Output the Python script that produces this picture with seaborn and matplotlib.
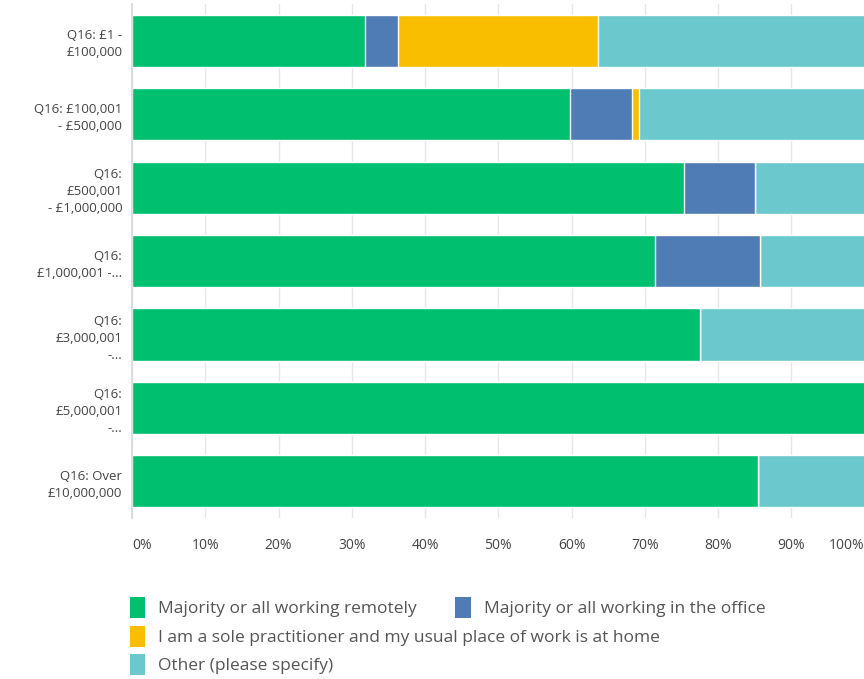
import numpy as np
import pandas as pd
import seaborn as sns
import matplotlib.pyplot as plt
import matplotlib.ticker as ticker
from matplotlib.patches import Patch

# dados (percentuais por faixa)
faixas = ['Q16: £1 -\n£100,000',
          'Q16: £100,001\n- £500,000',
          'Q16:\n£500,001\n- £1,000,000',
          'Q16:\n£1,000,001 -...',
          'Q16:\n£3,000,001\n-...',
          'Q16:\n£5,000,001\n-...',
          'Q16: Over\n£10,000,000']
remoto = [31.8, 59.8, 75.4, 71.4, 77.5, 100.0, 85.5]
escritorio = [4.5, 8.5, 9.6, 14.3, 0.0, 0.0, 0.0]
sozinho = [27.3, 0.9, 0.0, 0.0, 0.0, 0.0, 0.0]
outro = [36.4, 30.8, 15.0, 14.3, 22.5, 0.0, 14.5]

categorias = ['Majority or all working remotely',
              'Majority or all working in the office',
              'I am a sole practitioner and my usual place of work is at home',
              'Other (please specify)']
cores = ['#00BF6F', '#507CB6', '#F9BE00', '#6BC8CD']
ticks_x = ['0%', '10%', '20%', '30%', '40%', '50%', '60%', '70%', '80%', '90%', '100%']

df = pd.DataFrame({'faixa': faixas, categorias[0]: remoto, categorias[1]: escritorio,
                   categorias[2]: sozinho, categorias[3]: outro})
acumulado = df[categorias].cumsum(axis=1)

sns.set_theme(style='white')
plt.rcParams['font.family'] = ['Open Sans', 'DejaVu Sans']

fig = plt.figure(figsize=(8.64, 6.79), dpi=100)
ax = fig.add_axes([0.1528, 0.237, 0.848, 0.757])

# barras empilhadas: desenha do maior acumulado para o menor
for cat, cor in reversed(list(zip(categorias, cores))):
    sns.barplot(x=acumulado[cat], y=df['faixa'], color=cor, width=0.71,
                saturation=1, ax=ax, zorder=2)

ax.set_xlim(0, 100)
ax.set(xlabel=None, ylabel=None)
ax.set_xticks(np.arange(0, 101, 10))
ax.set_xticklabels(ticks_x)
ax.xaxis.grid(True, color='#e6e6e6', linewidth=1, zorder=0)
ax.set_axisbelow(True)
for s in ['top', 'right', 'bottom']:
    ax.spines[s].set_visible(False)
ax.spines['left'].set_color('#d9d9d9')
ax.tick_params(axis='x', length=0, pad=14, labelsize=10, labelcolor='#444444')
ax.tick_params(axis='y', length=0, pad=7, labelsize=9.5, labelcolor='#444444')
labels_x = ax.get_xticklabels()
labels_x[0].set_ha('left')
labels_x[-1].set_ha('right')
for lb in ax.get_yticklabels():
    lb.set_linespacing(1.4)

# legenda em duas partes
h = [Patch(facecolor=c, edgecolor='none') for c in cores]
estilo = dict(loc='upper left', frameon=False, fontsize=12.5, handlelength=0.9,
              handleheight=1.5, handletextpad=0.75, labelcolor='#555555',
              borderaxespad=0, borderpad=0)
leg1 = fig.legend(h[:2], categorias[:2], ncol=2, bbox_to_anchor=(0.15, 0.121),
                  columnspacing=2.2, **estilo)
leg2 = fig.legend(h[2:], categorias[2:], ncol=1, bbox_to_anchor=(0.15, 0.078),
                  labelspacing=0.4, **estilo)

fig.savefig('out.png', dpi=100)
